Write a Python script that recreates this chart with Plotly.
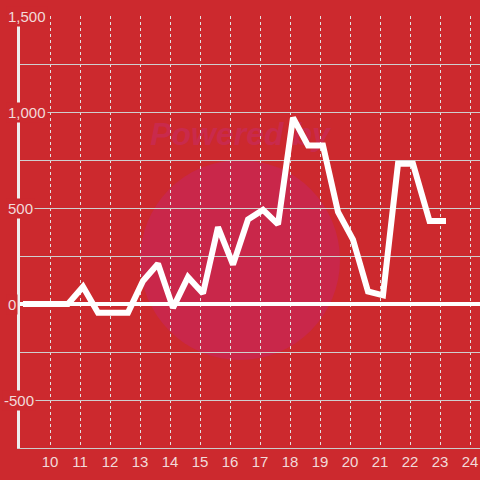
import plotly.graph_objects as go

# data: hour of day and values
hours = [9.1, 9.6, 10.1, 10.6, 11.1, 11.6, 12.1, 12.6, 13.1, 13.6, 14.1, 14.6,
         15.1, 15.6, 16.1, 16.6, 17.1, 17.6, 18.1, 18.6, 19.1, 19.6, 20.1,
         20.6, 21.1, 21.6, 22.1, 22.65, 23.2]
values = [0, 0, 0, 0, 90, -45, -45, -45, 120, 210, -20, 140, 55, 400, 205,
          440, 490, 415, 970, 825, 825, 480, 335, 65, 45, 730, 730, 432, 432]

x_ticks = list(range(10, 25))
x_ticklabels = [str(h) for h in x_ticks]
y_ticks = [1500, 1000, 500, 0, -500]
y_ticklabels = ["1,500", "1,000", "500", "0", "-500"]

BG = "#cc292e"
TXT = "#f2dada"

fig = go.Figure()
fig.add_trace(go.Scatter(
    x=hours, y=values, mode="lines",
    line=dict(color="#ffffff", width=6),
    hoverinfo="skip", showlegend=False,
))

W, H = 480, 480
ml, mr, mt, mb = 20, 0, 16, 32
pw = W - ml - mr
ph = H - mt - mb

def px_x(p):
    return (p - ml) / pw

def px_y(p):
    return 1 - (p - mt) / ph

shapes = [
    dict(type="circle", xref="paper", yref="paper",
         x0=px_x(140), x1=px_x(340), y0=px_y(360), y1=px_y(160),
         fillcolor="#c9274a", line=dict(width=0), layer="below"),
    dict(type="rect", xref="paper", yref="paper",
         x0=px_x(140), x1=px_x(340), y0=px_y(150), y1=px_y(112),
         fillcolor="rgba(0,0,0,0)", line=dict(width=0), layer="below",
         label=dict(text="<b><i>Powered by</i></b>",
                    font=dict(family="Liberation Sans, Arial", size=32, color="#c92a4c"),
                    textposition="middle center")),
]

annotations = []
for v, t in zip(y_ticks, y_ticklabels):
    annotations.append(dict(
        x=px_x(2 if t.startswith("-") else 6), xref="paper", xanchor="left",
        y=v, yref="y", yanchor="middle",
        text=t, showarrow=False, bgcolor=BG, borderpad=1,
        font=dict(family="Liberation Sans, Arial", size=15, color=TXT),
    ))

fig.update_layout(
    width=W, height=H,
    margin=dict(l=ml, r=mr, t=mt, b=mb, pad=0),
    paper_bgcolor=BG, plot_bgcolor=BG,
    shapes=shapes, annotations=annotations,
    font=dict(family="Liberation Sans, Arial", size=15, color=TXT),
    xaxis=dict(
        range=[9, 9 + pw / 30], tickvals=x_ticks, ticktext=x_ticklabels,
        showgrid=True, gridcolor="#e2e2e2", griddash="dot", gridwidth=1,
        showline=True, linecolor="#cccccc", linewidth=1,
        zeroline=False, ticks="", fixedrange=True,
        tickfont=dict(size=15, color=TXT),
    ),
    yaxis=dict(
        range=[-750, 1500], tick0=0, dtick=250,
        showgrid=True, gridcolor="#cfcfcf", gridwidth=1,
        showline=True, linecolor="#eeeeee", linewidth=3,
        zeroline=True, zerolinecolor="#ffffff", zerolinewidth=4,
        showticklabels=False, ticks="", fixedrange=True,
    ),
)

fig.write_html(
    "out.html",
    config={"displayModeBar": False},
    post_script="document.body.style.margin='0';document.body.style.overflow='hidden';",
)
